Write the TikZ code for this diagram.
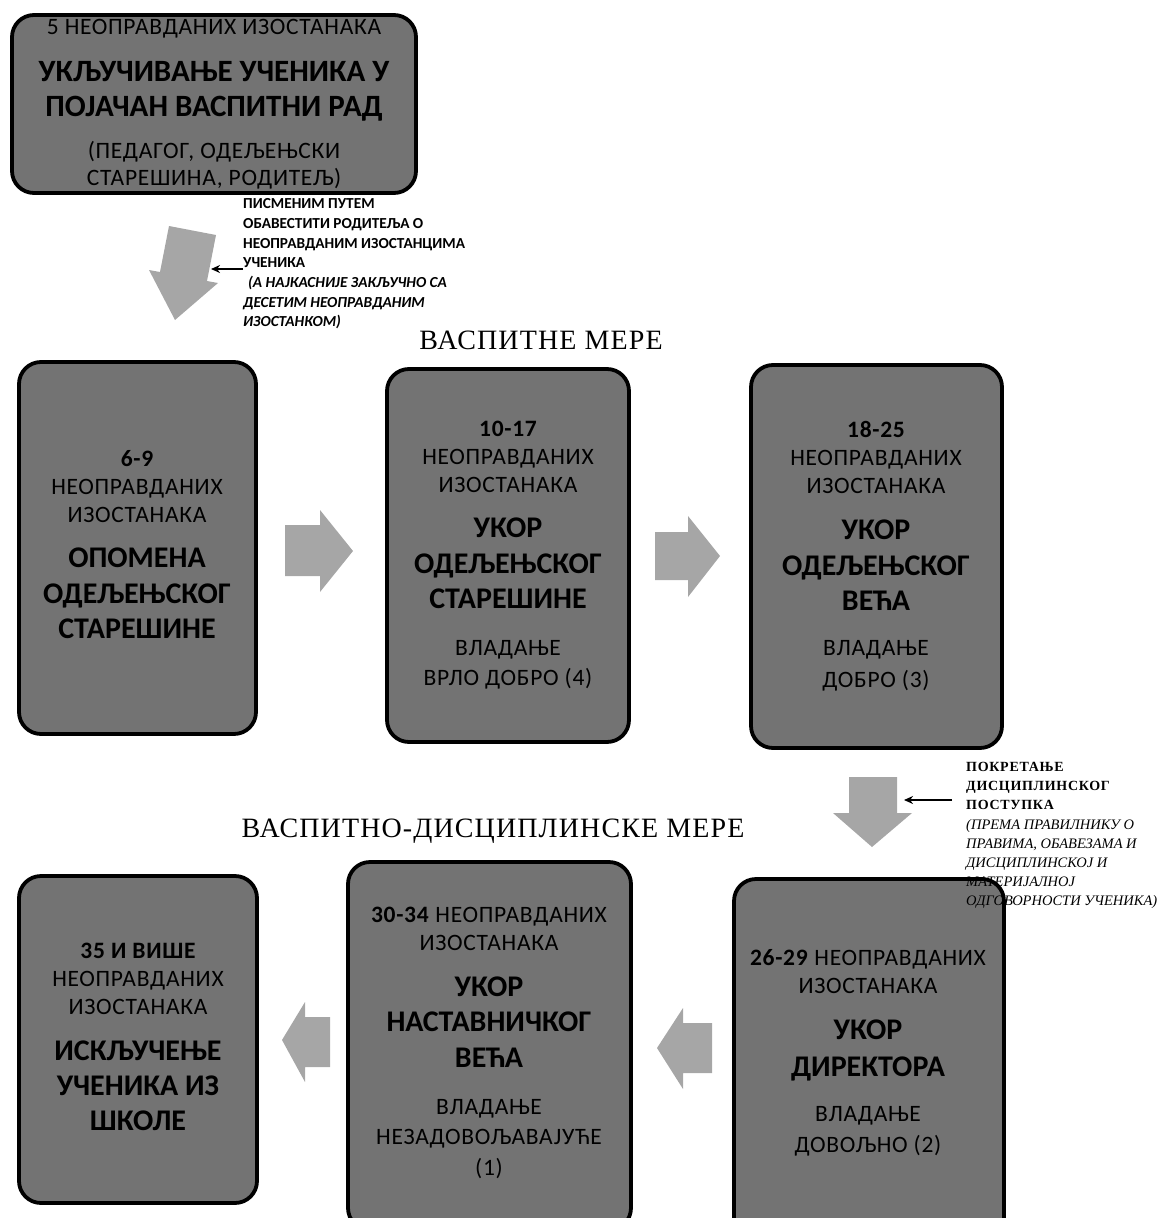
\documentclass[tikz,border=0pt]{standalone}
\usepackage{fontspec}
\newfontfamily\calf{Carlito}
\newfontfamily\calsp{Carlito}[LetterSpace=3]
\newfontfamily\serf{Liberation Serif}[LetterSpace=4]
\newfontfamily\sers{Liberation Serif}
\newfontfamily\serw{Liberation Serif}[LetterSpace=5]
\usetikzlibrary{arrows.meta}
\definecolor{boxgray}{RGB}{115,115,115}
\definecolor{arrgray}{RGB}{166,166,166}
\begin{document}
\begin{tikzpicture}[x=1pt,y=-1pt,
  box/.style={draw=black, line width=3.8pt, fill=boxgray, rounded corners=22pt, inner sep=0pt},
  sm/.style={font=\calsp\fontsize{23.5}{27}\selectfont, inner sep=0pt, anchor=base},
  smb/.style={font=\calsp\bfseries\fontsize{23.5}{27}\selectfont, inner sep=0pt, anchor=base},
  bg/.style={font=\calf\bfseries\fontsize{30}{35}\selectfont, inner sep=0pt, anchor=base},
  bgt/.style={font=\calf\bfseries\fontsize{31}{35}\selectfont, inner sep=0pt, anchor=base},
  ttl/.style={font=\serf\fontsize{28}{30}\selectfont, inner sep=0pt, anchor=base},
  barrow/.style={fill=arrgray, draw=none},
  ptr/.style={-{Stealth[length=9pt,width=8pt]}, line width=1.5pt}
]
\useasboundingbox (0,0) rectangle (1158,1218);
\clip (0,0) rectangle (1158,1218);

% boxes
\node[box, minimum width=404pt, minimum height=178pt] (T) at (214,104) {};
\node[box, minimum width=237pt, minimum height=372pt] (A) at (137.5,548) {};
\node[box, minimum width=242pt, minimum height=373pt] (B) at (508,555.5) {};
\node[box, minimum width=251pt, minimum height=383pt] (C) at (876.5,556.5) {};
\node[box, minimum width=270pt, minimum height=362pt] (D) at (869,1060) {};
\node[box, minimum width=283pt, minimum height=368pt] (E) at (489.5,1046) {};
\node[box, minimum width=238pt, minimum height=327pt] (F) at (138,1039.5) {};

% block arrows
\fill[barrow] (169,226) -- (216,235) -- (207,281) -- (218,283) -- (175,320) -- (149,270) -- (160,272) -- cycle;
\fill[barrow] (285,525) -- (320,525) -- (320,510) -- (353,551) -- (320,592) -- (320,576) -- (285,576) -- cycle;
\fill[barrow] (655,532) -- (688,532) -- (688,516) -- (720,556) -- (688,597) -- (688,580) -- (655,580) -- cycle;
\fill[barrow] (849,777) -- (897,777) -- (897,813) -- (912,813) -- (872,847) -- (833,813) -- (849,813) -- cycle;
\fill[barrow] (712,1023) -- (683,1023) -- (683,1008) -- (657,1048) -- (683,1089) -- (683,1073) -- (712,1073) -- cycle;
\fill[barrow] (330,1017) -- (305,1017) -- (305,1002) -- (282,1040) -- (305,1082) -- (305,1067) -- (330,1067) -- cycle;

% top box text
\node[sm] (t1) at (214,34.5) {5 НЕОПРАВДАНИХ ИЗОСТАНАКА};
\node[bgt] (t2) at (214,81) {УКЉУЧИВАЊЕ УЧЕНИКА У};
\node[bgt] (t3) at (214,116) {ПОЈАЧАН ВАСПИТНИ РАД};
\node[sm] (t4) at (214,158.5) {(ПЕДАГОГ, ОДЕЉЕЊСКИ};
\node[sm] (t5) at (214,185.5) {СТАРЕШИНА, РОДИТЕЉ)};

% box A
\node[smb] (a1) at (137,466.5) {6-9};
\node[sm] (a2) at (137,494.5) {НЕОПРАВДАНИХ};
\node[sm] (a3) at (137,522.5) {ИЗОСТАНАКА};
\node[bg] (a4) at (137,567) {ОПОМЕНА};
\node[bg] (a5) at (137,603) {ОДЕЉЕЊСКОГ};
\node[bg] (a6) at (137,638) {СТАРЕШИНЕ};

% box B
\node[smb] (b1) at (508,436.5) {10-17};
\node[sm] (b2) at (508,464.5) {НЕОПРАВДАНИХ};
\node[sm] (b3) at (508,492.5) {ИЗОСТАНАКА};
\node[bg] (b4) at (508,537) {УКОР};
\node[bg] (b5) at (508,573) {ОДЕЉЕЊСКОГ};
\node[bg] (b6) at (508,608) {СТАРЕШИНЕ};
\node[sm] (b7) at (508,655.5) {ВЛАДАЊЕ};
\node[sm] (b8) at (508,685.5) {ВРЛО ДОБРО (4)};

% box C
\node[smb] (c1) at (876,437.5) {18-25};
\node[sm] (c2) at (876,465.5) {НЕОПРАВДАНИХ};
\node[sm] (c3) at (876,493.5) {ИЗОСТАНАКА};
\node[bg] (c4) at (876,539) {УКОР};
\node[bg] (c5) at (876,575) {ОДЕЉЕЊСКОГ};
\node[bg] (c6) at (876,610) {ВЕЋА};
\node[sm] (c7) at (876,655.5) {ВЛАДАЊЕ};
\node[sm] (c8) at (876,687.5) {ДОБРО (3)};

% box D
\node[sm] (d1) at (868,965.5) {\textbf{26-29} НЕОПРАВДАНИХ};
\node[sm] (d2) at (868,993.5) {ИЗОСТАНАКА};
\node[bg] (d3) at (868,1039) {УКОР};
\node[bg] (d4) at (868,1076) {ДИРЕКТОРА};
\node[sm] (d5) at (868,1121.5) {ВЛАДАЊЕ};
\node[sm] (d6) at (868,1152.5) {ДОВОЉНО (2)};

% box E
\node[sm] (e1) at (489,922.5) {\textbf{30-34} НЕОПРАВДАНИХ};
\node[sm] (e2) at (489,950.5) {ИЗОСТАНАКА};
\node[bg] (e3) at (489,996) {УКОР};
\node[bg] (e4) at (489,1031) {НАСТАВНИЧКОГ};
\node[bg] (e5) at (489,1067) {ВЕЋА};
\node[sm] (e6) at (489,1114.5) {ВЛАДАЊЕ};
\node[sm] (e7) at (489,1144.5) {НЕЗАДОВОЉАВАЈУЋЕ};
\node[sm] (e8) at (489,1175.5) {(1)};

% box F
\node[smb] (f1) at (138,958.5) {35 И ВИШЕ};
\node[sm] (f2) at (138,986.5) {НЕОПРАВДАНИХ};
\node[sm] (f3) at (138,1014.5) {ИЗОСТАНАКА};
\node[bg] (f4) at (138,1060) {ИСКЉУЧЕЊЕ};
\node[bg] (f5) at (138,1095) {УЧЕНИКА ИЗ};
\node[bg] (f6) at (138,1130) {ШКОЛЕ};

% titles
\node[ttl] (h1) at (541,349) {ВАСПИТНЕ МЕРЕ};
\node[ttl] (h2) at (493,837) {ВАСПИТНО-ДИСЦИПЛИНСКЕ МЕРЕ};

% annotations
\node[anchor=north west, inner sep=0pt, align=left,
      font=\calf\bfseries\fontsize{15.3}{19.7}\selectfont] (n1) at (243,198.5)
  {ПИСМЕНИМ ПУТЕМ\\ОБАВЕСТИТИ РОДИТЕЉА О\\НЕОПРАВДАНИМ ИЗОСТАНЦИМА\\УЧЕНИКА\\
   \hspace*{5pt}\itshape(А НАЈКАСНИЈЕ ЗАКЉУЧНО СА\\\itshape ДЕСЕТИМ НЕОПРАВДАНИМ\\\itshape ИЗОСТАНКОМ)};
\node[anchor=north west, inner sep=0pt, align=left,
      font=\sers\bfseries\fontsize{14.5}{19.2}\selectfont] (n2) at (966,762)
  {\serw\fontsize{14}{19.2}\selectfont ПОКРЕТАЊЕ\\\serw\fontsize{14}{19.2}\selectfont ДИСЦИПЛИНСКОГ\\\serw\fontsize{14}{19.2}\selectfont ПОСТУПКА\\
   \mdseries\itshape(ПРЕМА ПРАВИЛНИКУ О\\\mdseries\itshape ПРАВИМА, ОБАВЕЗАМА И\\\mdseries\itshape ДИСЦИПЛИНСКОЈ И\\\mdseries\itshape МАТЕРИЈАЛНОЈ\\\mdseries\itshape ОДГОВОРНОСТИ УЧЕНИКА)};

\coordinate (p1) at (211,269);
\coordinate (p2) at (904,800);
\draw[ptr] (n1.west |- p1) -- (p1);
\draw[ptr] ([xshift=-14pt]n2.west |- p2) -- (p2);
\end{tikzpicture}
\end{document}
